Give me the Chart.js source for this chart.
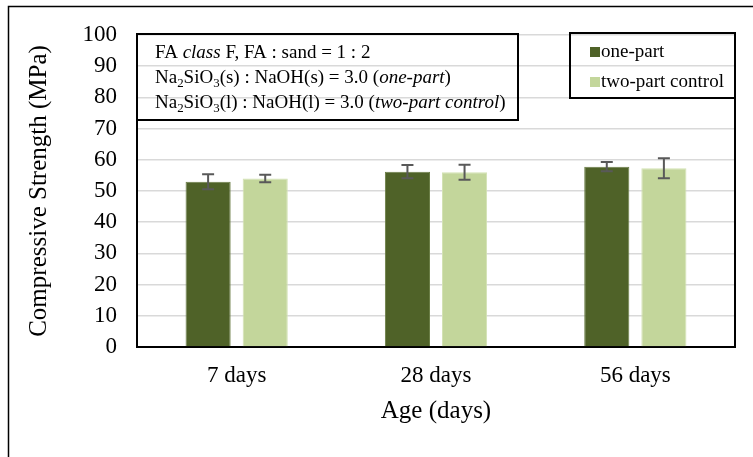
<!DOCTYPE html>
<html>
<head>
<meta charset="utf-8">
<script src="https://cdn.jsdelivr.net/npm/chart.js@4.4.1/dist/chart.umd.min.js"></script>
<style>
  html, body { margin: 0; padding: 0; background: #fff; }
  #wrap { width: 753px; height: 457px; position: relative; }
</style>
</head>
<body>
<div id="wrap"><canvas id="c" width="753" height="457"></canvas></div>
<script>
// Curing ages and compressive strength results (MPa)
const ages = ['7 days', '28 days', '56 days'];
const onePart = [53.0, 56.2, 57.8];
const onePartErr = [2.4, 2.1, 1.5];
const twoPart = [54.0, 56.0, 57.3];
const twoPartErr = [1.2, 2.4, 3.2];
const yTicks = [0, 10, 20, 30, 40, 50, 60, 70, 80, 90, 100];

const SERIF = '"Liberation Serif", "Times New Roman", serif';
const DARK = '#4f6228';
const LIGHT = '#c3d69b';

// Mix-design note, as runs of plain / italic / subscript text
const noteLines = [
  [{t: 'FA '}, {t: 'class', i: true}, {t: ' F, FA : sand = 1 : 2'}],
  [{t: 'Na'}, {t: '2', s: true}, {t: 'SiO'}, {t: '3', s: true}, {t: '(s) : NaOH(s) = 3.0 ('}, {t: 'one-part', i: true}, {t: ')'}],
  [{t: 'Na'}, {t: '2', s: true}, {t: 'SiO'}, {t: '3', s: true}, {t: '(l) : NaOH(l) = 3.0 ('}, {t: 'two-part control', i: true}, {t: ')'}]
];

function drawRuns(ctx, runs, x, y, size) {
  let cx = x;
  for (const r of runs) {
    const fs = r.s ? size * 0.68 : size;
    ctx.font = (r.i ? 'italic ' : '') + fs + 'px ' + SERIF;
    ctx.fillText(r.t, cx, r.s ? y + size * 0.2 : y);
    cx += ctx.measureText(r.t).width;
  }
}

const errorBars = {
  id: 'errorBars',
  afterDatasetsDraw(chart) {
    const ctx = chart.ctx;
    const y = chart.scales.y;
    const errs = [onePartErr, twoPartErr];
    ctx.save();
    ctx.strokeStyle = '#595959';
    ctx.lineWidth = 2;
    chart.data.datasets.forEach((ds, di) => {
      const meta = chart.getDatasetMeta(di);
      meta.data.forEach((bar, i) => {
        const v = ds.data[i], e = errs[di][i];
        const top = y.getPixelForValue(v + e);
        const bot = y.getPixelForValue(v - e);
        const x = bar.x;
        ctx.beginPath();
        ctx.moveTo(x, top); ctx.lineTo(x, bot);
        ctx.moveTo(x - 6, top); ctx.lineTo(x + 6, top);
        ctx.moveTo(x - 6, bot); ctx.lineTo(x + 6, bot);
        ctx.stroke();
      });
    });
    ctx.restore();
  }
};

const frames = {
  id: 'frames',
  beforeDraw(chart) {
    const ctx = chart.ctx;
    ctx.save();
    ctx.fillStyle = '#fff';
    ctx.fillRect(0, 0, chart.width, chart.height);
    ctx.strokeStyle = '#000';
    ctx.lineWidth = 1.5;
    ctx.strokeRect(8.5, 6.5, 800, 500);
    ctx.restore();
  },
  afterDraw(chart) {
    const ctx = chart.ctx;
    const a = chart.chartArea;
    ctx.save();
    ctx.strokeStyle = '#000';
    ctx.lineWidth = 2;
    // right edge of the plot area
    ctx.beginPath();
    ctx.moveTo(a.right, a.top); ctx.lineTo(a.right, a.bottom);
    ctx.stroke();

    // note box
    ctx.strokeRect(a.left, 34, 381, 86);
    ctx.fillStyle = '#000';
    ctx.textBaseline = 'alphabetic';
    noteLines.forEach((ln, k) => drawRuns(ctx, ln, a.left + 18, 58 + k * 25, 19));

    // legend box
    const lx = 570, ly = 33, lw = a.right - 570, lh = 65;
    ctx.strokeRect(lx, ly, lw, lh);
    ctx.font = '19px ' + SERIF;
    ctx.textBaseline = 'middle';
    chart.data.datasets.forEach((ds, k) => {
      const cy = 52 + k * 30;
      ctx.fillStyle = ds.backgroundColor;
      ctx.fillRect(590, cy - 5, 10, 10);
      ctx.fillStyle = '#000';
      ctx.fillText(ds.label, 601, cy);
    });
    ctx.restore();
  }
};

new Chart(document.getElementById('c'), {
  type: 'bar',
  data: {
    labels: ages,
    datasets: [
      { label: 'one-part', data: onePart, backgroundColor: DARK, borderColor: '#6a7d45', borderWidth: 1,
        categoryPercentage: 0.573, barPercentage: 0.79 },
      { label: 'two-part control', data: twoPart, backgroundColor: LIGHT, borderColor: '#d3e2b4', borderWidth: 1,
        categoryPercentage: 0.573, barPercentage: 0.79 }
    ]
  },
  options: {
    responsive: false,
    animation: false,
    layout: { padding: { left: 0, right: 18, top: 35, bottom: 0 } },
    plugins: { legend: { display: false }, tooltip: { enabled: false } },
    scales: {
      x: {
        grid: { display: false, drawTicks: false },
        border: { color: '#000', width: 2 },
        ticks: { color: '#000', padding: 15, font: { family: SERIF, size: 23 } },
        title: { display: true, text: 'Age (days)', color: '#000', font: { family: SERIF, size: 25 }, padding: { top: 10, bottom: 31 } },
        afterFit(s) { s.height = 110; }
      },
      y: {
        min: 0, max: 100,
        afterBuildTicks(s) { s.ticks = yTicks.map(v => ({ value: v })); },
        grid: { color: '#d9d9d9', lineWidth: 1.5, drawTicks: false },
        border: { color: '#000', width: 2 },
        ticks: { color: '#000', padding: 20, font: { family: SERIF, size: 23 } },
        title: { display: true, text: 'Compressive Strength (MPa)', color: '#000', font: { family: SERIF, size: 25 }, padding: { top: 24, bottom: 0 } },
        afterFit(s) { s.width = 137; }
      }
    }
  },
  plugins: [frames, errorBars]
});
</script>
</body>
</html>
